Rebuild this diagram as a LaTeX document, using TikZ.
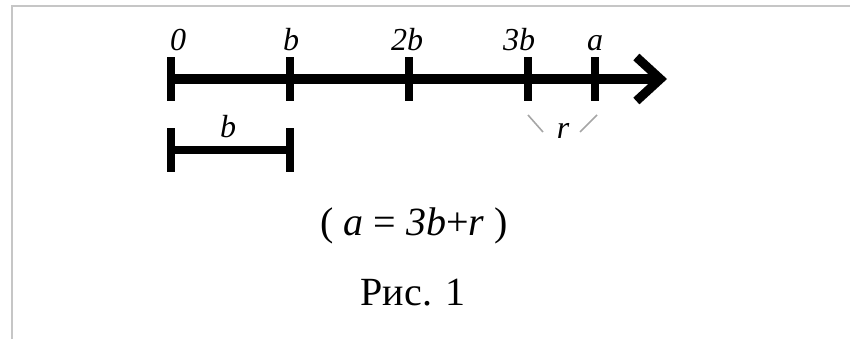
\documentclass[tikz,border=0pt]{standalone}
\usepackage{fontspec}
\setmainfont{Liberation Serif}
\usetikzlibrary{arrows.meta,positioning}

\begin{document}
\begin{tikzpicture}[x=0.5pt,y=-0.5pt,
  axis/.style={line width=5pt,-{Straight Barb[length=12pt,width=22pt,line width=4.5pt]}},
  tickmark/.style={line width=4.3pt},
  seg/.style={line width=4pt},
  lbl/.style={font=\fontsize{16}{16}\selectfont\itshape,inner sep=0pt,anchor=base},
  mark r/.style={gray!70,line width=0.8pt}]
\useasboundingbox (0,0) rectangle (850,339);
\draw[gray!45,line width=1pt] (12,339) -- (12,6) -- (850,6);

% number line
\coordinate (start) at (171,79);
\coordinate (tip) at (667,79);
\draw[axis] (start) -- (tip);
\foreach \x/\n/\l/\lx in {171/t0/0/178,290/t1/b/291,409/t2/2b/407,528/t3/3b/519,595/ta/a/595} {
  \coordinate (\n-top) at (\x,57);
  \coordinate (\n-bot) at (\x,101);
  \draw[tickmark] (\n-top) -- (\n-bot);
  \node[lbl] (\n-lbl) at (\lx,50) {\l};
}

% unit segment b
\coordinate (s0) at (171,150);
\coordinate (s1) at (290,150);
\draw[seg] (s0) -- (s1);
\draw[tickmark] (171,128) -- (171,172);
\draw[tickmark] (290,128) -- (290,172);
\node[lbl] (seg-lbl) at (228,137) {b};

% remainder r
\node[lbl] (r-lbl) at (563,138) {r};
\draw[mark r] (528,115) -- (543,132);
\draw[mark r] (597,115) -- (580,132);

\node[font=\fontsize{20}{20}\selectfont,anchor=base] (eq) at (414,235) {( \textit{a} = \textit{3b}+\textit{r} )};
\node[font=\fontsize{20}{20}\selectfont,anchor=base] (cap) at (413,305) {Рис. 1};
\end{tikzpicture}
\end{document}
